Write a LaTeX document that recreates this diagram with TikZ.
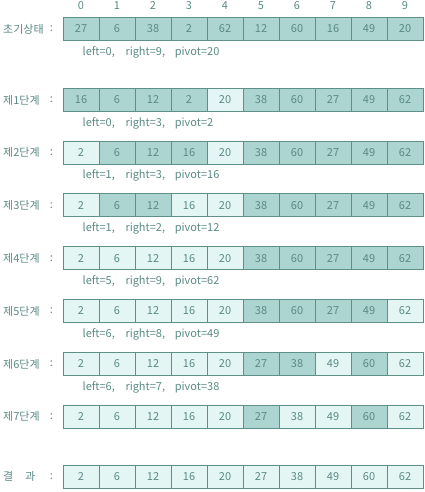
\documentclass[tikz,border=0pt]{standalone}
\usepackage{fontspec}
\setmainfont{Noto Sans CJK KR}
\definecolor{dk}{HTML}{ACD4D0}
\definecolor{lt}{HTML}{E4F6F4}
\definecolor{bd}{HTML}{5E9088}
\definecolor{tx}{HTML}{5A8A84}
\begin{document}
\begin{tikzpicture}[x=1pt,y=-1pt,
  cell/.style={draw=bd, line width=1pt, minimum width=36pt, minimum height=23.3pt,
    inner sep=0pt, text=tx, font=\fontsize{11}{12}\selectfont},
  idx/.style={text=tx, inner sep=0pt, font=\fontsize{11}{12}\selectfont},
  rowlab/.style={text=tx, inner sep=0pt, anchor=west, font=\fontsize{11}{12}\selectfont},
  info/.style={text=tx, inner sep=0pt, anchor=west, font=\fontsize{11}{12}\selectfont}]
\useasboundingbox (0,0) rectangle (425,492);
% index labels
\foreach \i in {0,...,9} \node[idx] (ix\i) at ({81+36*\i},6) {\i};
% arrays
\foreach \r/\y/\lst in {
  0/29/{27/dk,6/dk,38/dk,2/dk,62/dk,12/dk,60/dk,16/dk,49/dk,20/dk},
  1/100/{16/dk,6/dk,12/dk,2/dk,20/lt,38/dk,60/dk,27/dk,49/dk,62/dk},
  2/152.7/{2/lt,6/dk,12/dk,16/dk,20/lt,38/dk,60/dk,27/dk,49/dk,62/dk},
  3/205.3/{2/lt,6/dk,12/dk,16/lt,20/lt,38/dk,60/dk,27/dk,49/dk,62/dk},
  4/258.3/{2/lt,6/lt,12/lt,16/lt,20/lt,38/dk,60/dk,27/dk,49/dk,62/dk},
  5/311/{2/lt,6/lt,12/lt,16/lt,20/lt,38/dk,60/dk,27/dk,49/dk,62/lt},
  6/364/{2/lt,6/lt,12/lt,16/lt,20/lt,27/dk,38/dk,49/lt,60/dk,62/lt},
  7/416.7/{2/lt,6/lt,12/lt,16/lt,20/lt,27/dk,38/lt,49/lt,60/dk,62/lt},
  8/476.7/{2/lt,6/lt,12/lt,16/lt,20/lt,27/lt,38/lt,49/lt,60/lt,62/lt}}
{
  \foreach \v/\c [count=\i from 0] in \lst
    \node[cell, fill=\c] (r\r-\i) at ({81+36*\i},\y) {\v};
}
% row labels
\foreach \r/\y/\t in {0/29/초기상태, 1/100/제1단계, 2/152.7/제2단계, 3/205.3/제3단계,
  4/258.3/제4단계, 5/311/제5단계, 6/364/제6단계, 7/416.7/제7단계}
{
  \node[rowlab] (lab\r) at (3,\y) {\t};
  \node[rowlab, anchor=center] (col\r) at (51.5,\y) {:};
}
\node[rowlab] (lab8a) at (3,476.7) {결};
\node[rowlab] (lab8b) at (25,476.7) {과};
\node[rowlab, anchor=center] (col8) at (51.5,476.7) {:};
% info lines
\foreach \r/\y/\a/\b/\c in {0/52/0/9/20, 1/123/0/3/2, 2/175/1/3/16, 3/228/1/2/12,
  4/281/5/9/62, 5/334/6/8/49, 6/387/6/7/38}
{
  \node[info] (inl\r) at (82.5,\y) {left=\a,};
  \node[info] (inr\r) at (125.3,\y) {right=\b,};
  \node[info] (inp\r) at (174.7,\y) {pivot=\c};
}
\end{tikzpicture}
\end{document}
